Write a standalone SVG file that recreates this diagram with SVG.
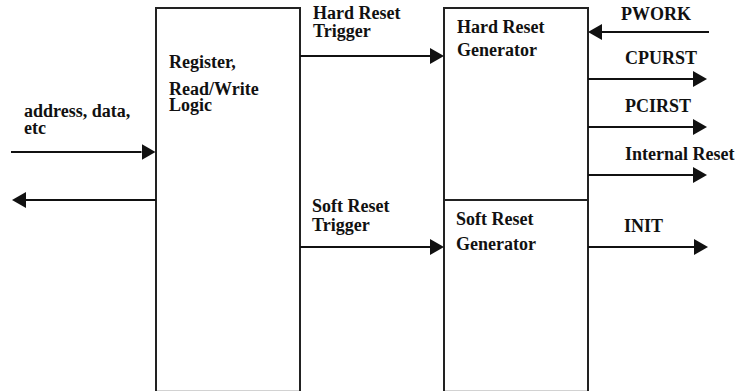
<svg xmlns="http://www.w3.org/2000/svg" width="738" height="391" viewBox="0 0 738 391">
  <defs>
    <style>
      .box { fill: #ffffff; stroke: #222222; stroke-width: 2; }
      .div { stroke: #222222; stroke-width: 2; }
      .conn { stroke: #111111; stroke-width: 2; fill: none; }
      .lbl { font-family: "Liberation Serif", "Times New Roman", serif; font-weight: bold; font-size: 18px; fill: #111111; }
    </style>
    <marker id="arrow" markerUnits="userSpaceOnUse" markerWidth="14" markerHeight="16" refX="0" refY="8" orient="auto" viewBox="0 0 14 16">
      <path d="M0,0 L14,8 L0,16 Z" fill="#111111"/>
    </marker>
  </defs>
  <rect width="738" height="391" fill="#ffffff"/>

  <g id="register-logic">
    <rect class="box" x="156" y="8" width="144" height="383.8"/>
    <text class="lbl" x="169" y="68">Register,</text>
    <text class="lbl" x="169" y="95">Read/Write</text>
    <text class="lbl" x="169" y="111">Logic</text>
  </g>

  <g id="hard-reset-generator">
    <rect class="box" x="444" y="8" width="144" height="192"/>
    <text class="lbl" x="457" y="33">Hard Reset</text>
    <text class="lbl" x="457" y="55.5">Generator</text>
  </g>

  <g id="soft-reset-generator">
    <rect class="box" x="444" y="200" width="144" height="191.8"/>
    <text class="lbl" x="456" y="225">Soft Reset</text>
    <text class="lbl" x="456" y="250">Generator</text>
  </g>

  <g id="connectors">
    <line class="conn" x1="11" y1="152" x2="141.5" y2="152" marker-end="url(#arrow)"/>
    <line class="conn" x1="156" y1="200" x2="26" y2="200" marker-end="url(#arrow)"/>
    <line class="conn" x1="300" y1="56" x2="430" y2="56" marker-end="url(#arrow)"/>
    <line class="conn" x1="300" y1="247" x2="430" y2="247" marker-end="url(#arrow)"/>
    <line class="conn" x1="709" y1="32" x2="602" y2="32" marker-end="url(#arrow)"/>
    <line class="conn" x1="588" y1="79" x2="693" y2="79" marker-end="url(#arrow)"/>
    <line class="conn" x1="588" y1="127" x2="693" y2="127" marker-end="url(#arrow)"/>
    <line class="conn" x1="588" y1="175" x2="693" y2="175" marker-end="url(#arrow)"/>
    <line class="conn" x1="588" y1="247" x2="694" y2="247" marker-end="url(#arrow)"/>
  </g>

  <g id="connector-labels">
    <text class="lbl" x="24" y="117">address, data,</text>
    <text class="lbl" x="24" y="133.5">etc</text>
    <text class="lbl" x="313" y="19">Hard Reset</text>
    <text class="lbl" x="313" y="37">Trigger</text>
    <text class="lbl" x="312" y="212">Soft Reset</text>
    <text class="lbl" x="312" y="231">Trigger</text>
    <text class="lbl" x="621" y="20">PWORK</text>
    <text class="lbl" x="625" y="64">CPURST</text>
    <text class="lbl" x="625" y="111.5">PCIRST</text>
    <text class="lbl" x="625" y="160">Internal Reset</text>
    <text class="lbl" x="624" y="232">INIT</text>
  </g>
</svg>
